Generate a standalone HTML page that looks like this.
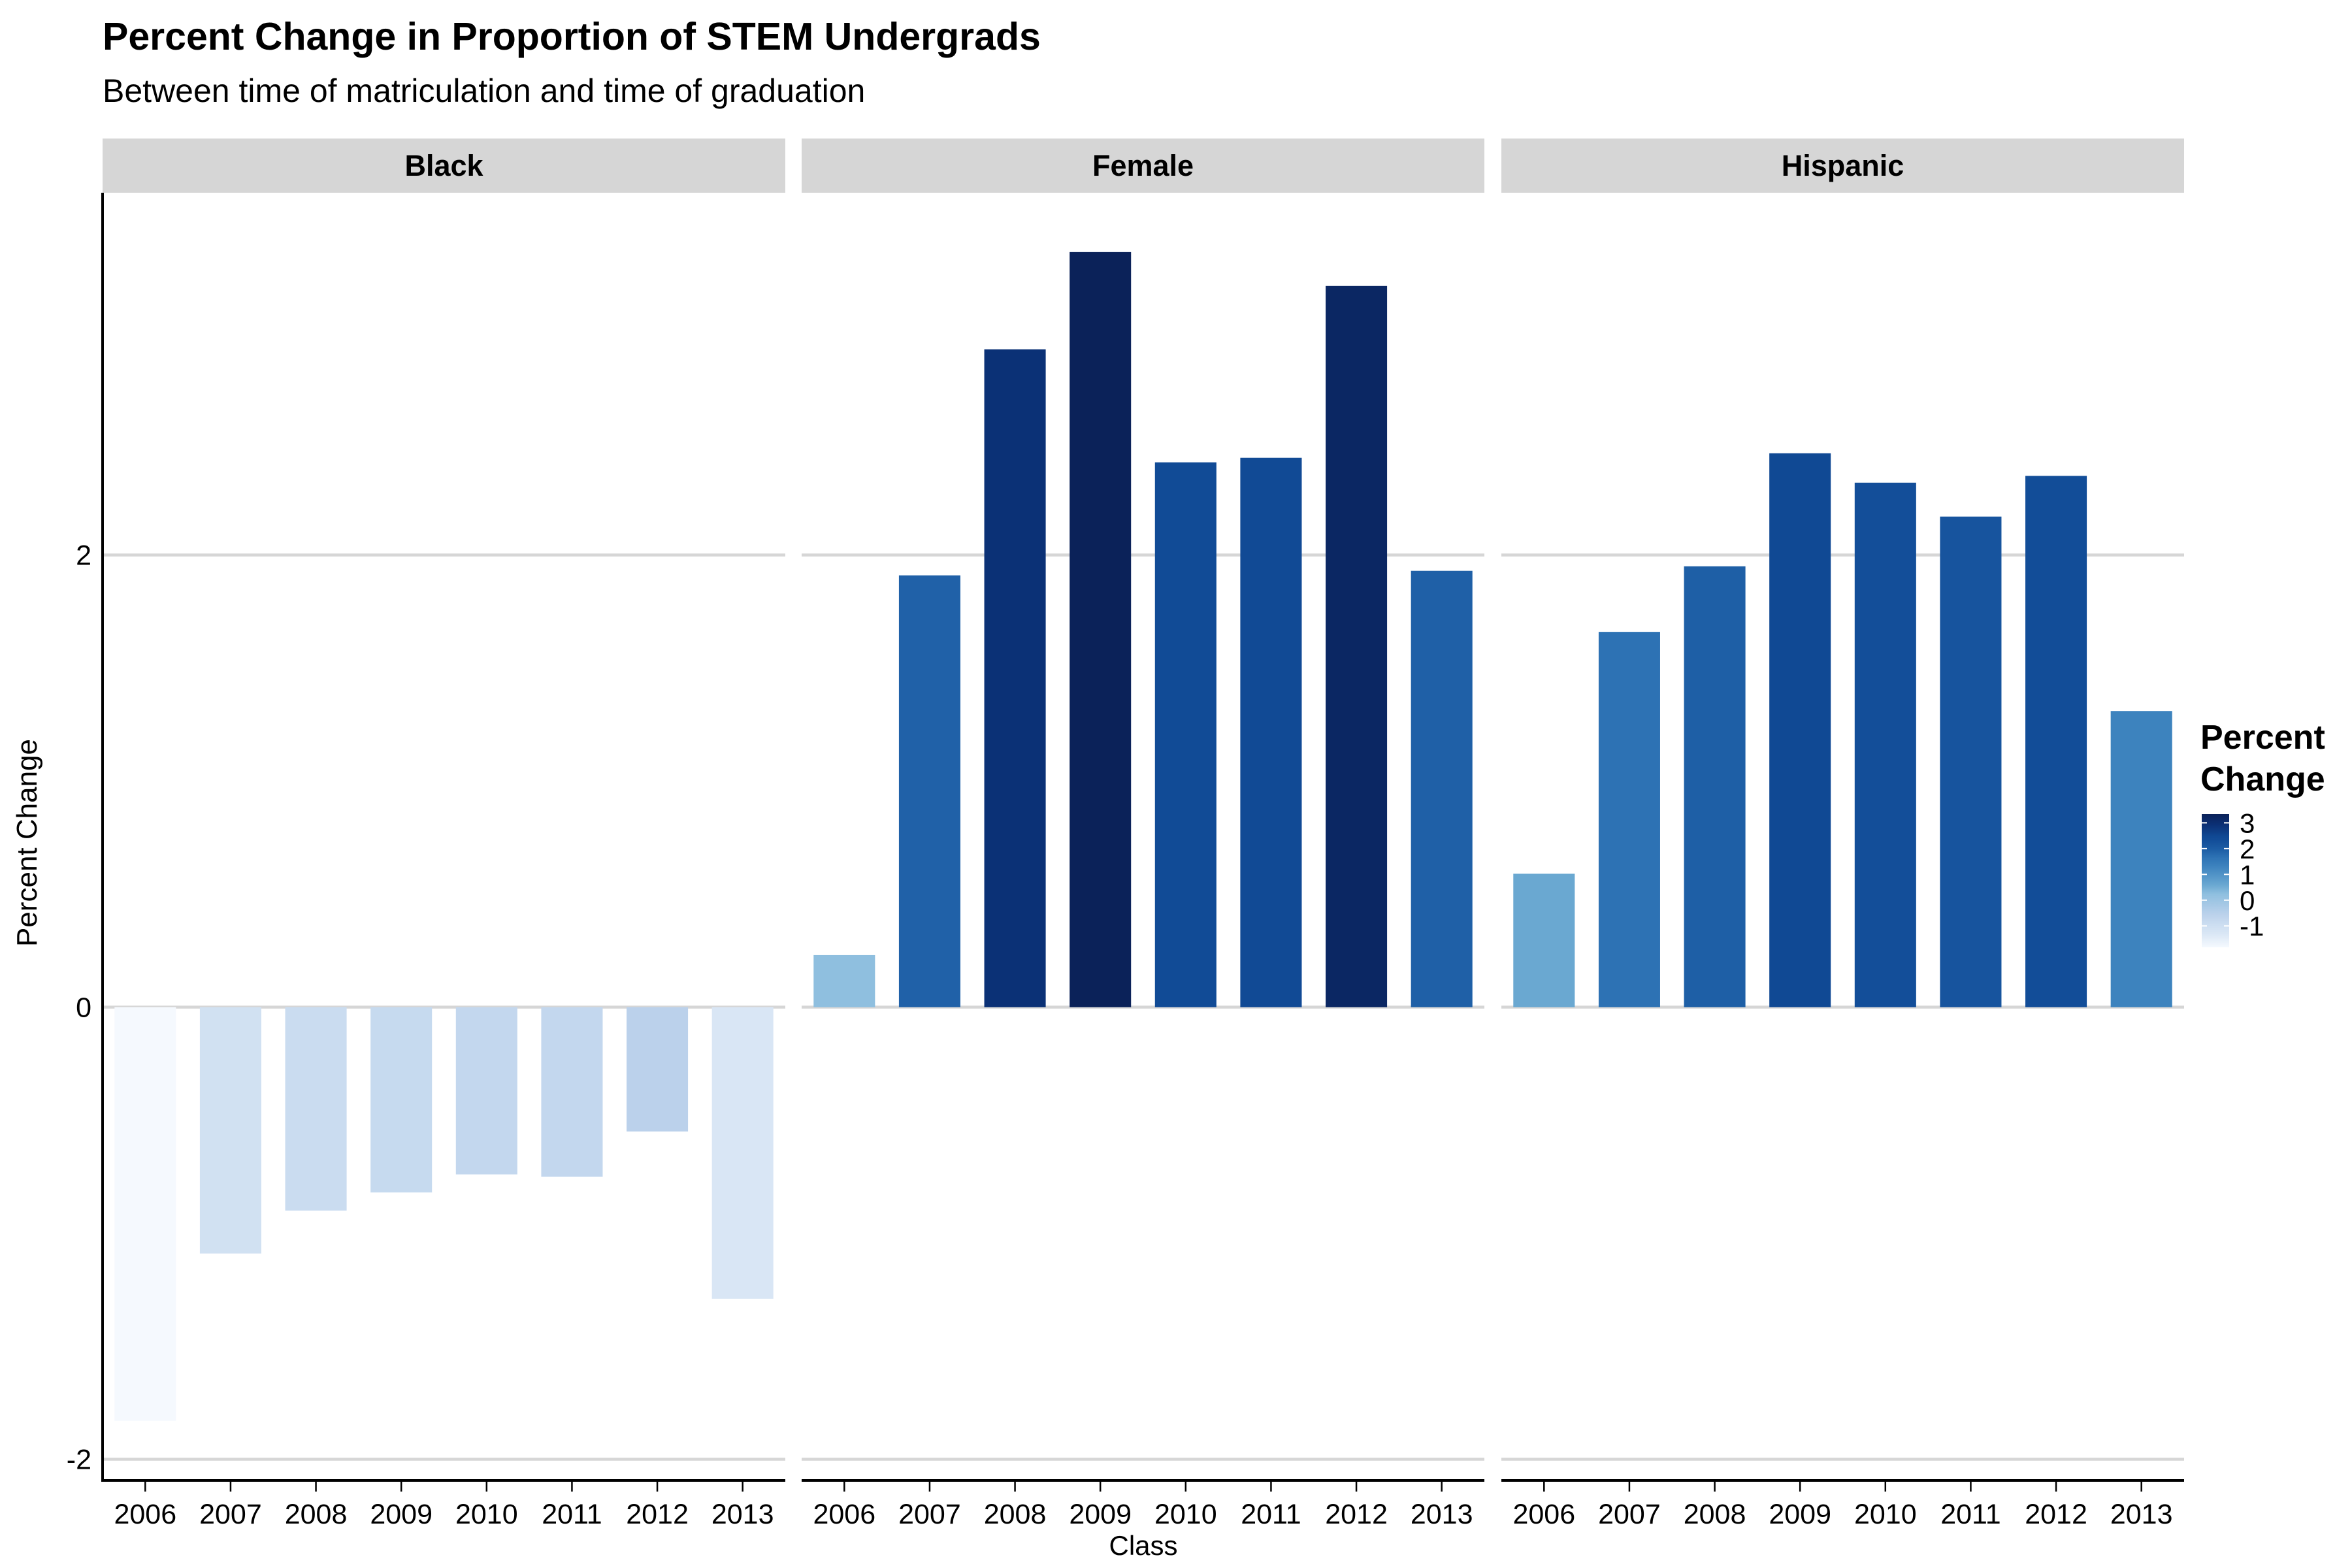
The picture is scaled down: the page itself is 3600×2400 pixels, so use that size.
<!DOCTYPE html>
<html><head><meta charset="utf-8">
<style>
html,body{margin:0;padding:0;background:#fff;}
svg{display:block;font-family:"Liberation Sans",sans-serif;}
</style></head>
<body>
<svg id="chart" width="3600" height="2400" viewBox="0 0 3600 2400" xmlns="http://www.w3.org/2000/svg">
<defs>
<linearGradient id="cbar" x1="0" y1="1" x2="0" y2="0"></linearGradient>
</defs>
<text x="157" y="76" font-size="59" font-weight="bold">Percent Change in Proportion of STEM Undergrads</text>
<text x="157" y="156" font-size="50">Between time of matriculation and time of graduation</text>
<text transform="translate(56,1290) rotate(-90)" text-anchor="middle" font-size="44">Percent Change</text>
<text x="1750" y="2380" text-anchor="middle" font-size="42">Class</text>
<g id="panels"></g>
<g id="legend">
<text x="3368" y="1146" font-size="52" font-weight="bold">Percent</text>
<text x="3368" y="1210" font-size="52" font-weight="bold">Change</text>
<rect x="3370" y="1246" width="42" height="204" fill="url(#cbar)"/>
</g>
</svg>
<script>
const categories = ["2006","2007","2008","2009","2010","2011","2012","2013"];
const facets = ["Black","Female","Hispanic"];
const blackValues = [-1.83,-1.09,-0.90,-0.82,-0.74,-0.75,-0.55,-1.29];
const femaleValues = [0.23,1.91,2.91,3.34,2.41,2.43,3.19,1.93];
const hispanicValues = [0.59,1.66,1.95,2.45,2.32,2.17,2.35,1.31];
const yTicks = [-2,0,2];
const legendTicks = [-1,0,1,2,3];

const series = [blackValues, femaleValues, hispanicValues];
const NS = "http://www.w3.org/2000/svg";
const panelsG = document.getElementById('panels');
const panelX = [157, 1227, 2298];
const panelW = 1045;
const plotTop = 295, plotBot = 2266;
const y0 = 1541.5, unit = 346;
function yScale(v){ return y0 - v*unit; }
function xScale(p, i){ return panelX[p] + (i+0.5)*panelW/categories.length; }
const barW = 0.72*panelW/categories.length;

const all = series.flat();
const vmin = Math.min(...all), vmax = Math.max(...all);
// colour ramp as fraction of range -> colour
const ramp = [[0,"#f5f9fe"],[0.10,"#dae7f5"],[0.18,"#cadcf0"],[0.25,"#bad1eb"],[0.40,"#8fbfdf"],[0.47,"#69a7d1"],[0.61,"#3c82be"],[0.68,"#2c71b3"],[0.73,"#1e5fa6"],[0.80,"#134e99"],[0.83,"#104994"],[0.92,"#0b3075"],[1,"#0b2259"]];
function hex(c){return [parseInt(c.slice(1,3),16),parseInt(c.slice(3,5),16),parseInt(c.slice(5,7),16)];}
function rampColor(t){
  t = Math.max(0,Math.min(1,t));
  for (let i=0;i<ramp.length-1;i++){
    if (t <= ramp[i+1][0]){
      const r = (t-ramp[i][0])/(ramp[i+1][0]-ramp[i][0]);
      const a = hex(ramp[i][1]), b = hex(ramp[i+1][1]);
      return "rgb(" + a.map((x,k)=>Math.round(x+(b[k]-x)*r)).join(",") + ")";
    }
  }
  return ramp[ramp.length-1][1];
}
function colorFor(v){ return rampColor((v - vmin)/(vmax - vmin)); }
function mk(tag, attrs){ const e = document.createElementNS(NS, tag); for (const k in attrs) e.setAttribute(k, attrs[k]); return e; }

const grad = document.getElementById('cbar');
ramp.forEach(s => { grad.appendChild(mk('stop', {offset: s[0], 'stop-color': s[1]})); });

facets.forEach((f, p) => {
  const g = mk('g', {});
  
  
  panelsG.appendChild(g);
  const strip = mk('rect', {x: panelX[p], y: 212, width: panelW, height: 83, fill: '#d6d6d6'});
  
  
  g.appendChild(strip);
  const st = mk('text', {x: panelX[p] + panelW/2, y: 269, 'text-anchor': 'middle', 'font-size': 45, 'font-weight': 'bold'});
  st.textContent = f;
  
  
  g.appendChild(st);
  yTicks.forEach(t => {
    const gl = mk('line', {x1: panelX[p], x2: panelX[p]+panelW, y1: yScale(t), y2: yScale(t), stroke: '#d6d6d6', 'stroke-width': 4.5});
    
    
    g.appendChild(gl);
  });
  series[p].forEach((v, i) => {
    const yt = Math.min(yScale(v), y0), h = Math.abs(yScale(v) - y0);
    const r = mk('rect', {x: xScale(p,i) - barW/2, y: yt, width: barW, height: h, fill: colorFor(v)});
    
    
    g.appendChild(r);
  });
  const ax = mk('line', {x1: panelX[p], x2: panelX[p]+panelW, y1: plotBot, y2: plotBot, stroke: '#000', 'stroke-width': 4});
  
  
  g.appendChild(ax);
  categories.forEach((c, i) => {
    const tk = mk('line', {x1: xScale(p,i), x2: xScale(p,i), y1: plotBot, y2: plotBot+17, stroke: '#000', 'stroke-width': 2.5});
    
    
    g.appendChild(tk);
    const tl = mk('text', {x: xScale(p,i), y: 2332, 'text-anchor': 'middle', 'font-size': 43});
    tl.textContent = c;
    
    
    g.appendChild(tl);
  });
});
const yax = mk('line', {x1: 157, x2: 157, y1: plotTop, y2: plotBot+2, stroke: '#000', 'stroke-width': 4});


panelsG.appendChild(yax);
yTicks.forEach(t => {
  const tl = mk('text', {x: 140, y: yScale(t)+15, 'text-anchor': 'end', 'font-size': 43});
  tl.textContent = String(t);
  
  
  panelsG.appendChild(tl);
});
const lg = document.getElementById('legend');
const cbTop = 1246, cbH = 204;
legendTicks.forEach(t => {
  const y = cbTop + cbH - (t - vmin)/(vmax - vmin)*cbH;
  [3370, 3404].forEach(x => {
    const l = mk('line', {x1: x, x2: x+8, y1: y, y2: y, stroke: '#fff', 'stroke-width': 2});
    
    
    lg.appendChild(l);
  });
  const tx = mk('text', {x: 3428, y: y+15, 'font-size': 42});
  tx.textContent = String(t);
  
  
  lg.appendChild(tx);
});
</script>
</body></html>
